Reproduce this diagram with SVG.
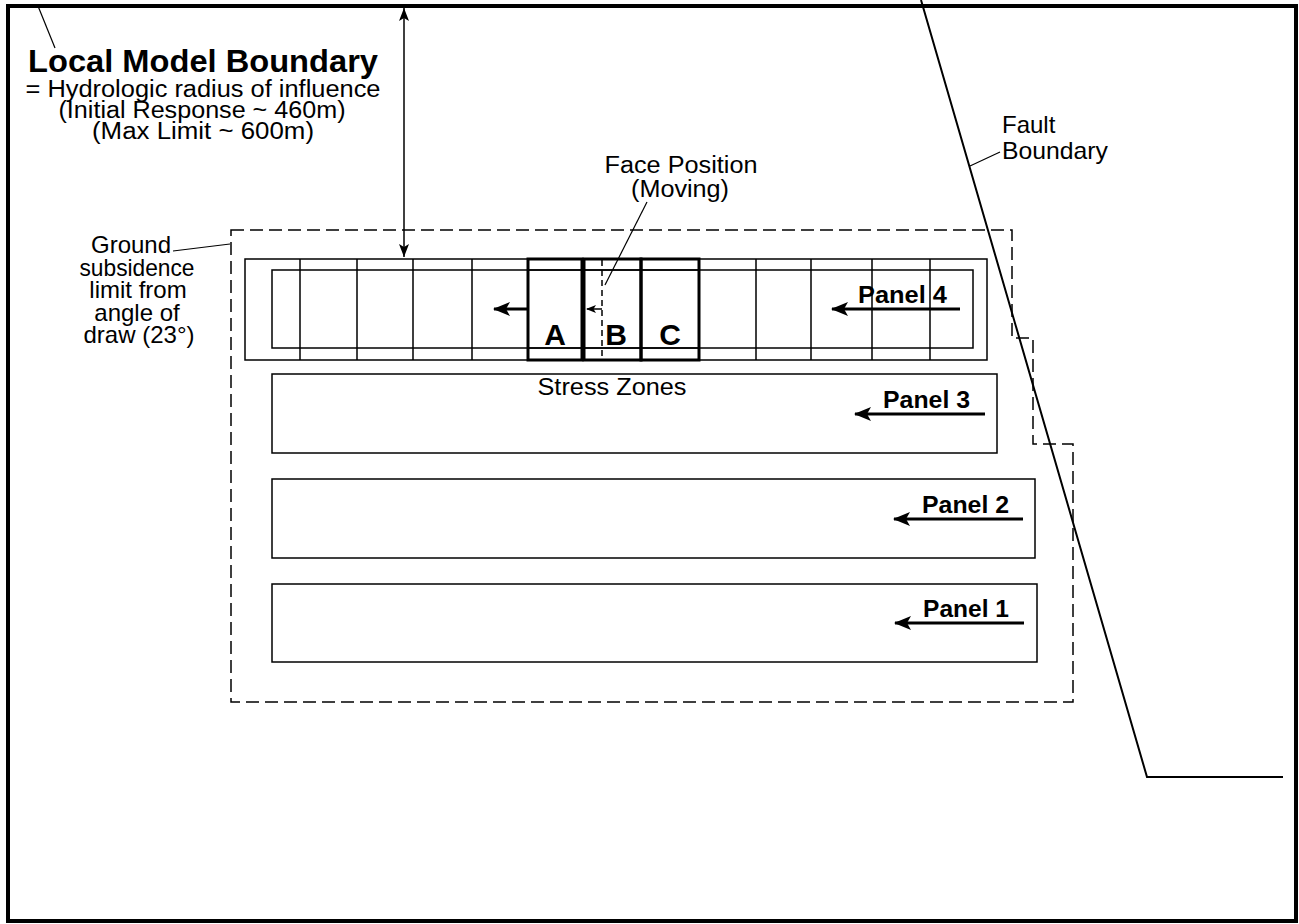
<svg xmlns="http://www.w3.org/2000/svg" width="1299" height="924" viewBox="0 0 1299 924">
<style>
text{font-family:"Liberation Sans",Arial,sans-serif;fill:#000}
.t{font-size:23px;text-anchor:middle}
.g{font-size:24px;text-anchor:middle}
.tl{font-size:24px}
.b{font-weight:bold}
.thin{fill:none;stroke:#000;stroke-width:1.5}
.thick{fill:none;stroke:#000;stroke-width:3}
.dash{fill:none;stroke:#000;stroke-width:1.5;stroke-dasharray:13,6}
</style>
<defs>
<marker id="ah" markerWidth="18" markerHeight="14" refX="16" refY="7" orient="auto-start-reverse" markerUnits="userSpaceOnUse"><path d="M0,0 L17,7 L0,14 L4,7 Z" fill="#000"/></marker>
<marker id="ahs" markerWidth="14" markerHeight="10" refX="13" refY="5" orient="auto-start-reverse" markerUnits="userSpaceOnUse"><path d="M0,0 L13,5 L0,10 L3,5 Z" fill="#000"/></marker>
<marker id="aht" markerWidth="10" markerHeight="8" refX="9" refY="4" orient="auto-start-reverse" markerUnits="userSpaceOnUse"><path d="M0,0 L10,4 L0,8 L2.5,4 Z" fill="#000"/></marker>
</defs>
<rect x="0" y="0" width="1299" height="924" fill="#fff"/>
<rect x="8" y="6" width="1288" height="915" fill="none" stroke="#000" stroke-width="4"/>

<g id="subsidence-boundary">
<path class="dash" d="M231,230 H1012 V338 H1033 V444 H1073 V702 H231 Z"/>
</g>

<g id="panel4">
<rect class="thin" x="245" y="259" width="742" height="101"/>
<rect class="thin" x="272" y="270" width="701" height="78"/>
<path class="thin" d="M300,259V360M357,259V360M413,259V360M472,259V360M756,259V360M811,259V360M872,259V360M930,259V360"/>
<text class="tl b" x="858" y="303" textLength="89" lengthAdjust="spacingAndGlyphs">Panel 4</text>
</g>

<g id="stress-zones">
<rect class="thick" x="528" y="259" width="54" height="101" fill="#fff"/>
<rect class="thick" x="584" y="259" width="57" height="101" fill="#fff"/>
<rect class="thick" x="641" y="259" width="58" height="101" fill="#fff"/>
<path class="thin" d="M584,270H699M584,348H699M528,270H582M528,348H582"/>
<line x1="602" y1="260" x2="602" y2="360" stroke="#000" stroke-width="1.5" stroke-dasharray="6,4"/>
<text class="b" x="555" y="345" font-size="30" text-anchor="middle">A</text>
<text class="b" x="616" y="345" font-size="30" text-anchor="middle">B</text>
<text class="b" x="670" y="345" font-size="30" text-anchor="middle">C</text>
<text class="t" x="612" y="395" textLength="149" lengthAdjust="spacingAndGlyphs">Stress Zones</text>
</g>

<g id="panel3">
<rect class="thin" x="272" y="374" width="725" height="79"/>
<text class="tl b" x="883" y="408" textLength="87" lengthAdjust="spacingAndGlyphs">Panel 3</text>
</g>
<g id="panel2">
<rect class="thin" x="272" y="479" width="763" height="79"/>
<text class="tl b" x="922" y="513" textLength="87" lengthAdjust="spacingAndGlyphs">Panel 2</text>
</g>
<g id="panel1">
<rect class="thin" x="272" y="584" width="765" height="78"/>
<text class="tl b" x="923" y="617" textLength="86" lengthAdjust="spacingAndGlyphs">Panel 1</text>
</g>

<g id="fault">
<polyline points="921,0 1147,777 1283,777" fill="none" stroke="#000" stroke-width="2"/>
<text class="tl" x="1002" y="133">Fault</text>
<text class="tl" x="1002" y="159" textLength="106" lengthAdjust="spacingAndGlyphs">Boundary</text>
</g>

<g id="local-model-label">
<text x="28" y="72" font-size="32" font-weight="bold" textLength="350" lengthAdjust="spacingAndGlyphs">Local Model Boundary</text>
<text class="t" x="203" y="97" textLength="355" lengthAdjust="spacingAndGlyphs">= Hydrologic radius of influence</text>
<text class="t" x="202" y="118" textLength="287" lengthAdjust="spacingAndGlyphs">(Initial Response ~ 460m)</text>
<text class="t" x="203" y="139" textLength="222" lengthAdjust="spacingAndGlyphs">(Max Limit ~ 600m)</text>
</g>

<g id="ground-label">
<text class="g" x="131" y="253">Ground</text>
<text class="g" x="137" y="276" textLength="115" lengthAdjust="spacingAndGlyphs">subsidence</text>
<text class="g" x="138" y="298">limit from</text>
<text class="g" x="137" y="321">angle of</text>
<text class="g" x="139" y="343">draw (23°)</text>
</g>

<g id="face-label">
<text class="t" x="681" y="173" textLength="153" lengthAdjust="spacingAndGlyphs">Face Position</text>
<text class="t" x="680" y="197" textLength="98" lengthAdjust="spacingAndGlyphs">(Moving)</text>
</g>

<g id="connectors">
<line x1="38" y1="6" x2="55" y2="48" stroke="#000" stroke-width="1.2"/>
<line x1="404" y1="8" x2="404" y2="257" stroke="#000" stroke-width="1.5" marker-start="url(#ahs)" marker-end="url(#ahs)"/>
<line x1="173" y1="251" x2="230" y2="244" stroke="#000" stroke-width="1.2"/>
<line x1="647" y1="202" x2="605" y2="285" stroke="#000" stroke-width="1.2"/>
<line x1="1000" y1="152" x2="970" y2="166" stroke="#000" stroke-width="1.2"/>
<line x1="528" y1="309" x2="494" y2="309" stroke="#000" stroke-width="3" marker-end="url(#ah)"/>
<line x1="602" y1="309" x2="587" y2="309" stroke="#000" stroke-width="1.5" marker-end="url(#aht)"/>
<line x1="960" y1="309" x2="832" y2="309" stroke="#000" stroke-width="3" marker-end="url(#ah)"/>
<line x1="985" y1="414" x2="855" y2="414" stroke="#000" stroke-width="3" marker-end="url(#ah)"/>
<line x1="1023" y1="519" x2="894" y2="519" stroke="#000" stroke-width="3" marker-end="url(#ah)"/>
<line x1="1024" y1="623" x2="895" y2="623" stroke="#000" stroke-width="3" marker-end="url(#ah)"/>
</g>
</svg>
